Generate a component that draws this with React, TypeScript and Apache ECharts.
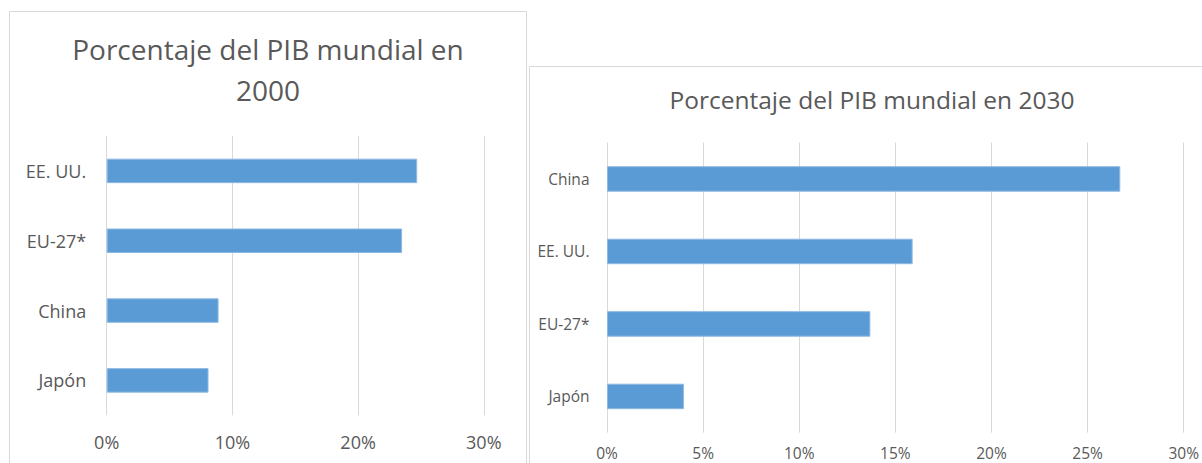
import React, { useEffect, useRef } from "react";
import * as echarts from "echarts";

const categories2000 = ["EE. UU.", "EU-27*", "China", "Japón"];
const values2000 = [24.7, 23.5, 8.9, 8.1];
const ticks2000 = { min: 0, max: 30, interval: 10 };

const categories2030 = ["China", "EE. UU.", "EU-27*", "Japón"];
const values2030 = [26.7, 15.9, 13.7, 4.0];
const ticks2030 = { min: 0, max: 30, interval: 5 };

const title2000 = "Porcentaje del PIB mundial en\n2000";
const title2030 = "Porcentaje del PIB mundial en 2030";

const FONT = "'Open Sans', sans-serif";
const TEXT = "#595959";
const GRID = "#d9d9d9";
const BAR = "#5b9bd5";

export default function App() {
  const ref = useRef<HTMLDivElement>(null);
  useEffect(() => {
    if (!ref.current) return;
    const chart = echarts.init(ref.current, undefined, { renderer: "svg" });
    const xAxisBase = (ticks: any, fs: number, margin: number, idx: number) => ({
      type: "value",
      gridIndex: idx,
      min: ticks.min,
      max: ticks.max,
      interval: ticks.interval,
      axisLine: { show: false },
      axisTick: { show: false },
      splitLine: { show: true, lineStyle: { color: GRID, width: 1 } },
      axisLabel: {
        formatter: "{value}%",
        color: TEXT,
        fontFamily: FONT,
        fontSize: fs,
        margin,
      },
    });
    const yAxisBase = (cats: string[], fs: number, margin: number, idx: number) => ({
      type: "category",
      gridIndex: idx,
      data: cats,
      inverse: true,
      axisLine: { show: false },
      axisTick: { show: false },
      splitLine: { show: false },
      axisLabel: { color: TEXT, fontFamily: FONT, fontSize: fs, margin },
    });
    chart.setOption({
      animation: false,
      backgroundColor: "#ffffff",
      title: [
        {
          text: title2000,
          left: 263,
          top: 23,
          textAlign: "center",
          textStyle: {
            fontFamily: FONT,
            fontSize: 28,
            fontWeight: "normal",
            color: TEXT,
            lineHeight: 41,
          },
        },
        {
          text: title2030,
          left: 867,
          top: 79,
          textAlign: "center",
          textStyle: {
            fontFamily: FONT,
            fontSize: 24.5,
            fontWeight: "normal",
            color: TEXT,
            lineHeight: 30,
          },
        },
      ],
      graphic: [
        {
          type: "rect",
          shape: { x: 9.5, y: 11.5, width: 517, height: 470 },
          style: { fill: "none", stroke: GRID, lineWidth: 1 },
          silent: true,
        },
        {
          type: "rect",
          shape: { x: 529.5, y: 66.5, width: 700, height: 420 },
          style: { fill: "none", stroke: GRID, lineWidth: 1 },
          silent: true,
        },
      ],
      grid: [
        { left: 106.7, right: 1202 - 483.8, top: 136, bottom: 463 - 415.3 },
        { left: 607, right: 1202 - 1186, top: 142.7, bottom: 463 - 432.7 },
      ],
      xAxis: [xAxisBase(ticks2000, 18, 18, 0), xAxisBase(ticks2030, 15.5, 12, 1)],
      yAxis: [
        yAxisBase(categories2000, 18, 20.5, 0),
        yAxisBase(categories2030, 15.5, 17.5, 1),
      ],
      series: [
        {
          type: "bar",
          xAxisIndex: 0,
          yAxisIndex: 0,
          data: values2000,
          barWidth: 24.5,
          itemStyle: { color: BAR, borderColor: "#8db9e2", borderWidth: 1 },
        },
        {
          type: "bar",
          xAxisIndex: 1,
          yAxisIndex: 1,
          data: values2030,
          barWidth: 25.5,
          itemStyle: { color: BAR, borderColor: "#8db9e2", borderWidth: 1 },
        },
      ],
    });
    return () => chart.dispose();
  }, []);
  return (
    <div
      ref={ref}
      style={{ position: "absolute", left: 0, top: 0, width: 1202, height: 463 }}
    />
  );
}
